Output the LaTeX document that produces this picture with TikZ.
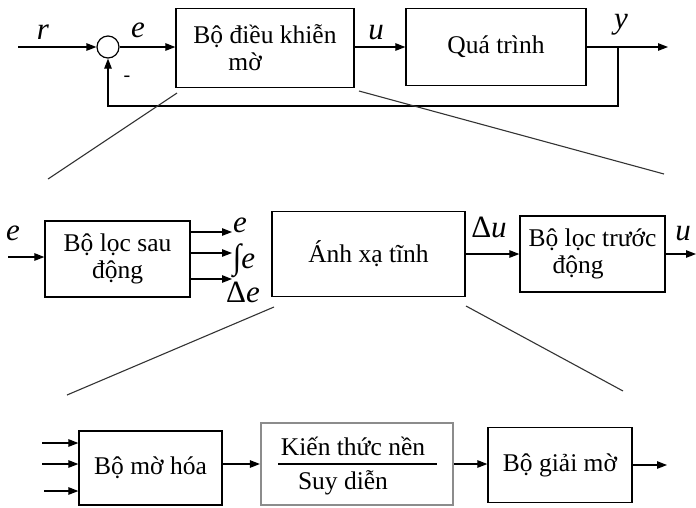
\documentclass[tikz,border=0pt]{standalone}
\usepackage{fontspec}
\setmainfont{Liberation Serif}
\usetikzlibrary{arrows.meta}

\tikzset{
  blk/.style={draw, line width=1.3pt, inner sep=0pt, font=\fontsize{25.5}{27}\selectfont},
  txt/.style={inner sep=0pt, font=\fontsize{25.5}{27}\selectfont},
  wire/.style={line width=1.2pt},
  arr/.style={wire, -{Triangle[length=10pt,width=7.5pt]}},
  sig/.style={inner sep=0pt, font=\fontsize{31}{31}\selectfont\itshape},
  zoomline/.style={line width=1.1pt, draw=black!80},
}

\begin{document}
\begin{tikzpicture}[x=1pt,y=-1pt]
\useasboundingbox (0,0) rectangle (696,507);

% ---------- closed loop ----------
\node[circle, draw, wire, minimum size=22pt, inner sep=0pt] (sum) at (108,47) {};
\node[blk, minimum width=178pt, minimum height=79pt, align=left] (fc) at (265,48)
  {Bộ điều khiễn\\\hspace*{35pt}mờ};
\node[blk, minimum width=180pt, minimum height=77pt] (proc) at (496,47) {Quá trình};

\coordinate (rin) at (18,47);
\coordinate (yout) at (668,47);
\coordinate (tap) at (618,47);
\coordinate (fbc) at (618,106);

\draw[arr] (rin) -- (sum.west);
\draw[arr] (sum.east) -- (sum.east -| fc.west);
\draw[arr] (fc.east |- proc.west) -- (proc.west);
\draw[arr] (proc.east) -- (yout);
\draw[arr] (tap) -- (fbc) -| (sum.south);

\node[sig] (lr) at (43,32) {r};
\node[sig] (le) at (138,30) {e};
\node[sig] (lu) at (376,33) {u};
\node[sig] (ly) at (621,25) {y};
\node[inner sep=0pt, font=\fontsize{20}{20}\selectfont] (minus) at (127,79) {-};

% zoom lines to the controller detail
\coordinate (za1) at (177,93);
\coordinate (zb1) at (48,179);
\coordinate (za2) at (359,91);
\coordinate (zb2) at (664,174);
\draw[zoomline] (za1) -- (zb1);
\draw[zoomline] (za2) -- (zb2);

% ---------- controller structure ----------
\node[blk, minimum width=145pt, minimum height=76pt, align=center] (pre) at (117.5,259)
  {Bộ lọc sau\\động};
\node[blk, minimum width=193pt, minimum height=85pt] (map) at (368.5,254) {Ánh xạ tĩnh};
\node[blk, minimum width=145pt, minimum height=76pt, align=left] (post) at (592.5,254)
  {Bộ lọc trước\\\hspace*{24pt}động};

\coordinate (ein) at (8,257);
\coordinate (o1) at (232,232);
\coordinate (o2) at (232,253);
\coordinate (o3) at (232,279);
\coordinate (uout) at (696,254);

\draw[arr] (ein) -- (ein -| pre.west);
\draw[arr] (o1 -| pre.east) -- (o1);
\draw[arr] (o2 -| pre.east) -- (o2);
\draw[arr] (o3 -| pre.east) -- (o3);
\draw[arr] (map.east) -- (post.west);
\draw[arr] (post.east) -- (uout);

\node[sig] (le2) at (13,233) {e};
\node[sig] (lo1) at (240,225) {e};
\node[sig] (lo2) at (244,261) {\upshape\scalebox{1}[1.12]{∫}\itshape e};
\node[sig] (lo3) at (243,292) {\upshape Δ\itshape e};
\node[sig] (ldu) at (489,227) {\upshape Δ\itshape u};
\node[sig] (lu2) at (683,234) {u};

% zoom lines to the static map detail
\coordinate (zc1) at (274,307);
\coordinate (zd1) at (67,395);
\coordinate (zc2) at (466,306);
\coordinate (zd2) at (623,391);
\draw[zoomline] (zc1) -- (zd1);
\draw[zoomline] (zc2) -- (zd2);

% ---------- fuzzy inference structure ----------
\node[blk, minimum width=143pt, minimum height=74pt] (fuz) at (150.5,468) {Bộ mờ hóa};
\node[blk, draw=black!45, line width=2.2pt, minimum width=192pt, minimum height=82pt] (kb) at (357,464) {};
\node[blk, minimum width=144pt, minimum height=75pt] (defz) at (560,465) {Bộ giải mờ};

\node[txt] (kt) at (353,446) {Kiến thức nền};
\node[txt] (sd) at (343,483) {Suy diễn};
\coordinate (hl) at (278,464);
\coordinate (hr) at (437,464);
\draw[wire] (hl) -- (hr);

\coordinate (i1) at (42,443);
\coordinate (i2) at (42,464);
\coordinate (i3) at (44,491);
\coordinate (zout) at (667,465);

\draw[arr] (i1) -- (i1 -| fuz.west);
\draw[arr] (i2) -- (i2 -| fuz.west);
\draw[arr] (i3) -- (i3 -| fuz.west);
\draw[arr] (fuz.east |- kb.west) -- (kb.west);
\draw[arr] (kb.east) -- (kb.east -| defz.west);
\draw[arr] (defz.east) -- (zout);
\end{tikzpicture}
\end{document}
